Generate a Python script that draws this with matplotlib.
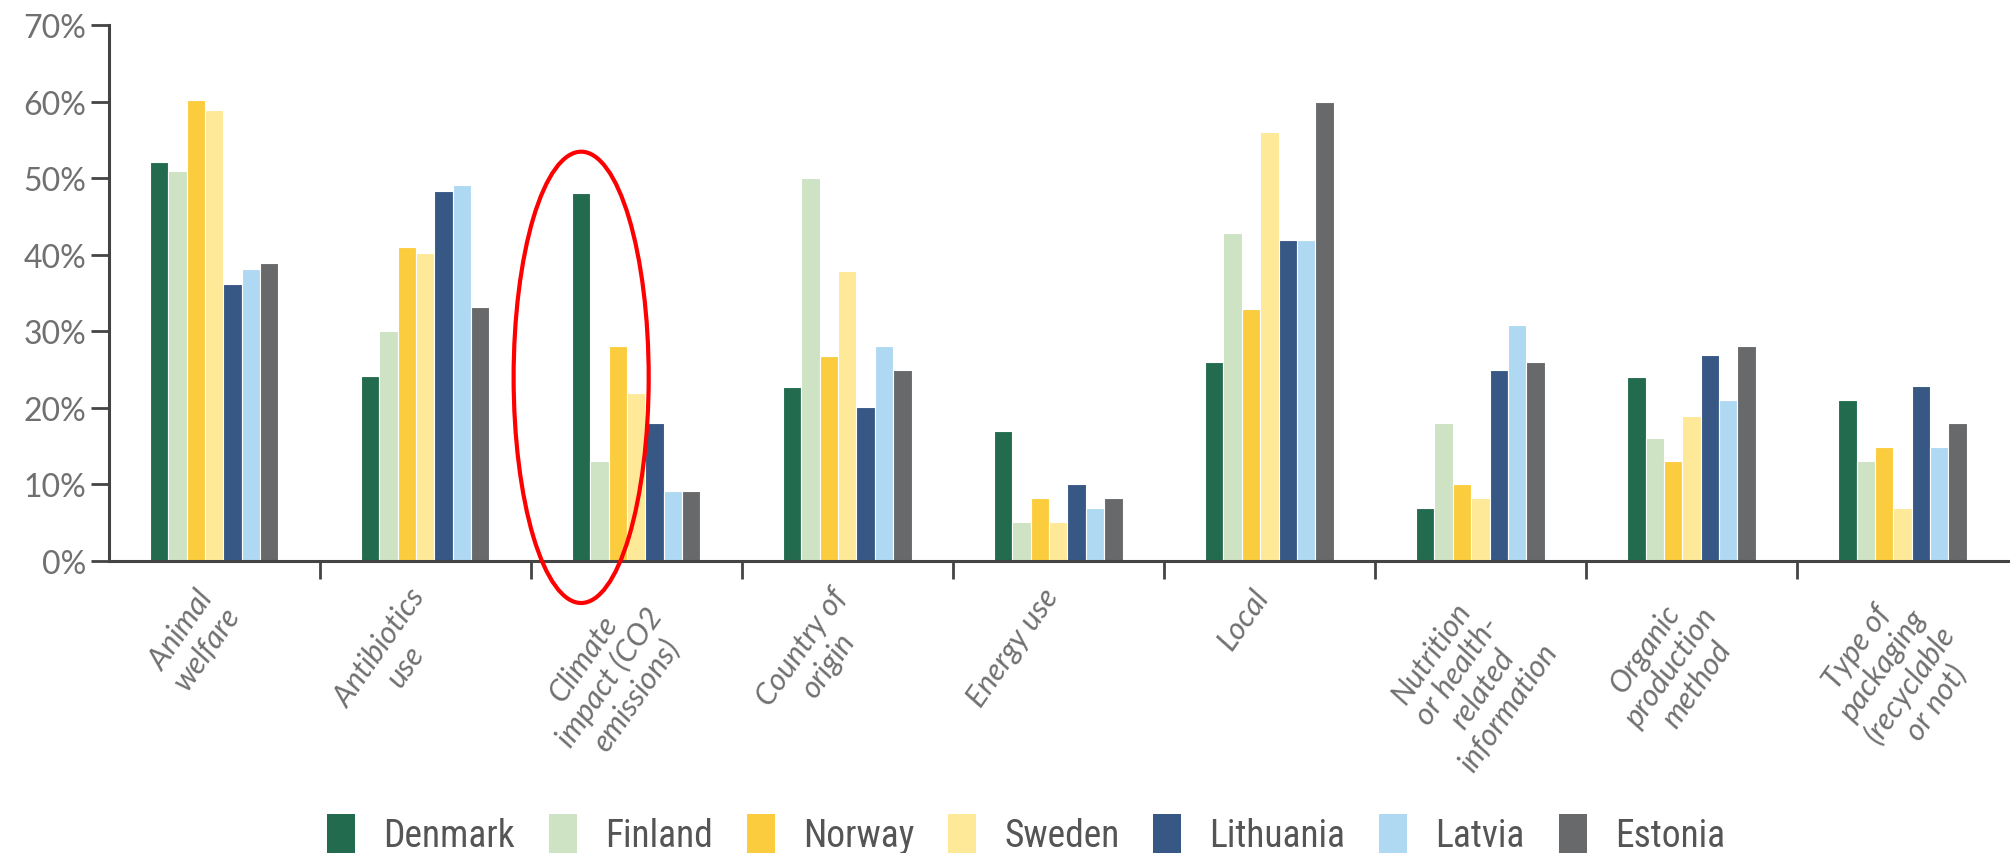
import numpy as np
import matplotlib
matplotlib.use('Agg')
import matplotlib.pyplot as plt
import matplotlib.transforms as mtransforms
from matplotlib import font_manager
from matplotlib.patches import Ellipse, Patch

# Data (share of respondents, %)
categories = ['Animal\nwelfare', 'Antibiotics\nuse', 'Climate\nimpact (CO2\nemissions)',
              'Country of\norigin', 'Energy use', 'Local',
              'Nutrition\nor health-\nrelated\ninformation', 'Organic\nproduction\nmethod',
              'Type of\npackaging\n(recyclable\nor not)']
countries = ['Denmark', 'Finland', 'Norway', 'Sweden', 'Lithuania', 'Latvia', 'Estonia']

denmark = [52.2, 24.2, 48.1, 22.8, 17.0, 26.0, 6.9, 24.1, 21.0]
finland = [51.0, 30.1, 13.0, 50.0, 5.1, 42.9, 18.0, 16.1, 13.0]
norway = [60.2, 41.1, 28.1, 26.8, 8.2, 33.0, 10.0, 13.0, 14.9]
sweden = [59.0, 40.2, 22.0, 37.9, 5.1, 56.1, 8.2, 18.9, 6.9]
lithuania = [36.2, 48.3, 18.0, 20.1, 10.0, 41.9, 25.0, 26.9, 22.9]
latvia = [38.1, 49.1, 9.1, 28.1, 6.9, 41.9, 30.8, 21.0, 14.9]
estonia = [39.0, 33.2, 9.1, 25.0, 8.2, 60.0, 26.0, 28.1, 18.0]
series = [denmark, finland, norway, sweden, lithuania, latvia, estonia]

colors = ['#236b4f', '#cde3c4', '#fbcd3e', '#fde997', '#375785', '#afd9f3', '#68696b']
text_grey = '#707070'
axis_grey = '#444444'

# pick a condensed font for the legend if one is installed
names = sorted({f.name for f in font_manager.fontManager.ttflist})
legend_font = {'family': 'DejaVu Sans', 'stretch': 'condensed'}
for cand in ['Liberation Sans Narrow', 'Roboto Condensed', 'Open Sans Condensed',
             'DejaVu Sans Condensed']:
    if cand in names:
        legend_font = {'family': cand}
        break

fig = plt.figure(figsize=(20.12, 8.54), dpi=100)
ax = fig.add_axes([0.054, 0.342, 0.944, 0.627])

x = np.arange(len(categories))
bw = 0.087
for i, (vals, col) in enumerate(zip(series, colors)):
    ax.bar(x + (i - 3) * bw, vals, width=bw, color=col, edgecolor='white',
           linewidth=0.8, zorder=2)

ax.set_xlim(-0.5, len(categories) - 0.5)
ax.set_ylim(0, 70)

# y axis
ax.set_yticks(np.arange(0, 71, 10))
ax.set_yticklabels([f'{v}%' for v in range(0, 71, 10)], fontsize=23,
                   color=text_grey, family='Lato')
ax.tick_params(axis='y', length=13, width=2, color=axis_grey, pad=3)

# x axis: separator ticks between groups, labels at group centres
ax.set_xticks(x[:-1] + 0.5)
ax.set_xticklabels([])
ax.tick_params(axis='x', which='major', length=13, width=2, color=axis_grey)
ax.set_xticks(x, minor=True)
ax.set_xticklabels(categories, minor=True, rotation=55, ha='right', va='top',
                   rotation_mode='anchor', multialignment='center', linespacing=1.15,
                   fontsize=22, color=text_grey, family='Lato', style='italic')
ax.tick_params(axis='x', which='minor', length=0, pad=16)
shift = mtransforms.ScaledTranslation(-18 / 100, 0, fig.dpi_scale_trans)
for lab in ax.get_xticklabels(minor=True):
    lab.set_transform(lab.get_transform() + shift)

for s in ['top', 'right']:
    ax.spines[s].set_visible(False)
for s in ['left', 'bottom']:
    ax.spines[s].set_color(axis_grey)
    ax.spines[s].set_linewidth(2.2)
ax.grid(False)

# red highlight ellipse around the climate impact group
ell = Ellipse((2 - 3 * bw, 24), width=0.64, height=59, fill=False,
              edgecolor='#ff0000', linewidth=3, clip_on=False, zorder=5)
ax.add_patch(ell)

# legend
handles = [Patch(facecolor=c, edgecolor='none') for c in colors]
fig.legend(handles, countries, loc='center', bbox_to_anchor=(0.51, 0.022),
           ncol=7, frameon=False, handlelength=0.75, handleheight=1.2,
           handletextpad=0.75, columnspacing=0.9,
           prop=dict(legend_font, size=27), labelcolor='#555555')

fig.savefig('out.png', dpi=100, facecolor='white')
